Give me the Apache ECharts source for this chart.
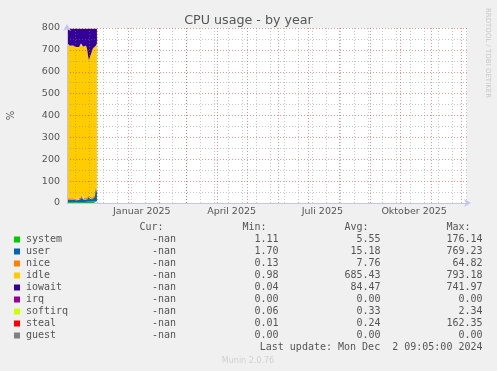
<!DOCTYPE html>
<html><head><meta charset="utf-8">
<script src="https://cdn.jsdelivr.net/npm/echarts@6/dist/echarts.min.js"></script>
<style>html,body{margin:0;padding:0;background:#f0f0f0;}#c{width:497px;height:371px;}</style>
</head><body><div id="c"></div>
<script>
// ---- data (daily, Nov 1 .. Dec 1 2024) ----
const dates = ['2024-11-01','2024-11-02','2024-11-03','2024-11-04','2024-11-05','2024-11-06','2024-11-07','2024-11-08','2024-11-09','2024-11-10',
  '2024-11-11','2024-11-12','2024-11-13','2024-11-14','2024-11-15','2024-11-16','2024-11-17','2024-11-18','2024-11-19','2024-11-20',
  '2024-11-21','2024-11-22','2024-11-23','2024-11-24','2024-11-25','2024-11-26','2024-11-27','2024-11-28','2024-11-29','2024-11-30','2024-12-01'];
const system  = [5,5,4,5,5,6,5,5,5,4,5,6,5,5,5,5,5,6,5,5,5,6,5,5,6,5,6,7,6,9,8];
const user    = [9,9,10,9,8,9,10,9,9,9,9,10,9,9,12,24,12,10,9,9,10,12,24,14,12,10,12,14,20,62,40];
const nice    = [8,8,9,8,8,8,7,8,8,7,8,8,8,7,8,8,8,8,8,8,7,8,8,8,8,7,8,8,8,8,8];
const idle    = [710,703,698,697,702,694,698,694,699,693,689,693,691,705,704,682,690,693,696,697,685,649,616,640,675,688,681,686,677,641,674];
const iowait  = [65,72,76,78,74,80,77,81,76,84,86,80,84,71,68,78,82,80,79,78,90,122,144,130,96,87,90,82,86,77,67];
const irq     = [0,0,0,0,0,0,0,0,0,0,0,0,0,0,0,0,0,0,0,0,0,0,0,0,0,0,0,0,0,0,0];
const softirq = [0.3,0.3,0.3,0.3,0.3,0.3,0.3,0.3,0.3,0.3,0.3,0.3,0.3,0.3,0.3,0.3,0.3,0.3,0.3,0.3,0.3,0.4,0.4,0.3,0.3,0.3,0.3,0.3,0.4,0.5,0.4];
const steal   = [0.2,0.2,0.2,0.2,0.2,0.2,0.2,0.2,0.2,0.2,0.2,0.2,0.2,0.2,0.2,0.2,0.2,0.2,0.2,0.2,0.2,0.3,0.3,0.2,0.2,0.2,0.2,0.2,0.3,0.4,0.3];
const guest   = [0,0,0,0,0,0,0,0,0,0,0,0,0,0,0,0,0,0,0,0,0,0,0,0,0,0,0,0,0,0,0];

const seriesNames = ['system','user','nice','idle','iowait','irq','softirq','steal','guest'];
const seriesData  = [system,user,nice,idle,iowait,irq,softirq,steal,guest];
const seriesColors = ['#00CC00','#0066B3','#FF8000','#FFCC00','#330099','#990099','#CCFF00','#FF0000','#808080'];

const curVals = ['-nan','-nan','-nan','-nan','-nan','-nan','-nan','-nan','-nan'];
const minVals = ['1.11','1.70','0.13','0.98','0.04','0.00','0.06','0.01','0.00'];
const avgVals = ['5.55','15.18','7.76','685.43','84.47','0.00','0.33','0.24','0.00'];
const maxVals = ['176.14','769.23','64.82','793.18','741.97','0.00','2.34','162.35','0.00'];

const xTickDates  = ['2025-01-15','2025-04-15','2025-07-15','2025-10-15'];
const xTickLabels = ['Januar 2025','April 2025','Juli 2025','Oktober 2025'];
const monthLines  = ['2024-12-01','2025-01-01','2025-02-01','2025-03-01','2025-04-01','2025-05-01','2025-06-01','2025-07-01','2025-08-01','2025-09-01','2025-10-01','2025-11-01','2025-12-01'];
const xMin = '2024-11-01', xMax = '2025-12-07';

// ---- layout ----
const GL = 67, GT = 28, GR = 467, GB = 203;
const ts = d => new Date(d + 'T00:00:00Z').getTime();

const minorLines = [];
for (let t = ts('2024-11-09'); t < ts(xMax); t += 14 * 86400000) minorLines.push(t);

const RED = 'rgba(235,30,30,0.5)', GRAY = 'rgba(130,130,130,0.45)';
const AX = '#c4c4f2';

const series = seriesNames.map((n, i) => ({
  name: n, type: 'line', stack: 'cpu', xAxisIndex: 1, showSymbol: false, symbol: 'none',
  data: dates.map((d, j) => [ts(d), seriesData[i][j]]),
  lineStyle: { width: 0 }, areaStyle: { color: seriesColors[i], opacity: 1 },
  itemStyle: { color: seriesColors[i] }, animation: false, silent: true
}));
series[series.length - 1].markLine = {
  silent: true, symbol: ['none', 'none'], animation: false, z: 5,
  label: { show: false },
  data: minorLines.map(t => ({ xAxis: t, lineStyle: { color: GRAY, type: [1, 2], width: 1 } }))
    .concat(monthLines.map(d => ({ xAxis: ts(d), lineStyle: { color: RED, type: [1, 2], width: 1 } })))
};

const mono = '"DejaVu Sans Mono", monospace';
const TC = '#555';
const graphic = [];
const rowY0 = 239.5, rowH = 12;
const colX = { cur: 176, min: 278.5, avg: 380.5, max: 482.5 };
function txt(x, y, s, align, opts) {
  graphic.push(Object.assign({ type: 'text', x: x, y: y, style: { text: s, font: '10px ' + mono, fill: TC, align: align, verticalAlign: 'middle' } }, opts || {}));
}
txt(139.5, 227, 'Cur:', 'left'); txt(242.5, 227, 'Min:', 'left'); txt(344.5, 227, 'Avg:', 'left'); txt(446.5, 227, 'Max:', 'left');
seriesNames.forEach((n, i) => {
  const y = rowY0 + i * rowH;
  graphic.push({ type: 'rect', shape: { x: 14, y: y - 3, width: 6, height: 6 }, style: { fill: seriesColors[i] } });
  txt(26, y, n, 'left');
  txt(colX.cur, y, curVals[i], 'right');
  txt(colX.min, y, minVals[i], 'right');
  txt(colX.avg, y, avgVals[i], 'right');
  txt(colX.max, y, maxVals[i], 'right');
});
txt(482.5, 347.5, 'Last update: Mon Dec  2 09:05:00 2024', 'right');
graphic.push({ type: 'text', x: 248, y: 360.5, style: { text: 'Munin 2.0.76', font: '8px "DejaVu Sans"', fill: '#d0d0d0', align: 'center', verticalAlign: 'middle' } });
graphic.push({ type: 'text', x: 487.5, y: 53, rotation: -Math.PI / 2, style: { text: 'RRDTOOL / TOBI OETIKER', font: '7px "DejaVu Sans"', fill: '#c8c8c8', align: 'center', verticalAlign: 'middle' } });

const tickTs = xTickDates.map(ts);
const chart = echarts.init(document.getElementById('c'), null, { renderer: 'canvas' });
chart.setOption({
  backgroundColor: '#f0f0f0',
  animation: false,
  title: { text: 'CPU usage - by year', left: 'center', top: 9, textStyle: { fontFamily: 'DejaVu Sans', fontSize: 12.7, fontWeight: 'normal', color: '#555' } },
  grid: { left: GL, top: GT, width: GR - GL, height: GB - GT, show: true, backgroundColor: '#fff', borderWidth: 0, containLabel: false, outerBoundsMode: 'none' },
  xAxis: [{
    type: 'value', min: ts(xMin), max: ts(xMax), z: 6,
    axisLine: { show: true, onZero: false, lineStyle: { color: AX, width: 1 }, symbol: ['none', 'arrow'], symbolSize: [6, 7], symbolOffset: [0, 4] },
    axisTick: { show: false },
    splitLine: { show: false },
    axisLabel: {
      customValues: tickTs, margin: 4, color: TC, fontFamily: 'DejaVu Sans', fontSize: 9.5, hideOverlap: false,
      formatter: v => { const i = tickTs.indexOf(v); return i >= 0 ? xTickLabels[i] : ''; }
    }
  }, {
    type: 'time', min: ts(xMin), max: ts(xMax), show: false,
    axisLine: { show: false }, axisTick: { show: false }, axisLabel: { show: false }, splitLine: { show: false }
  }],
  yAxis: {
    type: 'value', min: 0, max: 800, interval: 50, z: 4,
    name: '%', nameLocation: 'middle', nameGap: 51, nameRotate: 90,
    nameTextStyle: { color: TC, fontFamily: 'DejaVu Sans', fontSize: 10 },
    axisLine: { show: true, lineStyle: { color: AX, width: 1 }, symbol: ['none', 'arrow'], symbolSize: [6, 7], symbolOffset: [0, 4] },
    axisTick: { show: false },
    axisLabel: { margin: 7, color: TC, fontFamily: 'DejaVu Sans', fontSize: 9.5, formatter: v => (v % 100 === 0 ? String(v) : '') },
    splitLine: { show: true, lineStyle: { color: [RED, GRAY], type: [1, 2], width: 1 } }
  },
  series: series,
  graphic: graphic
});
</script></body></html>
